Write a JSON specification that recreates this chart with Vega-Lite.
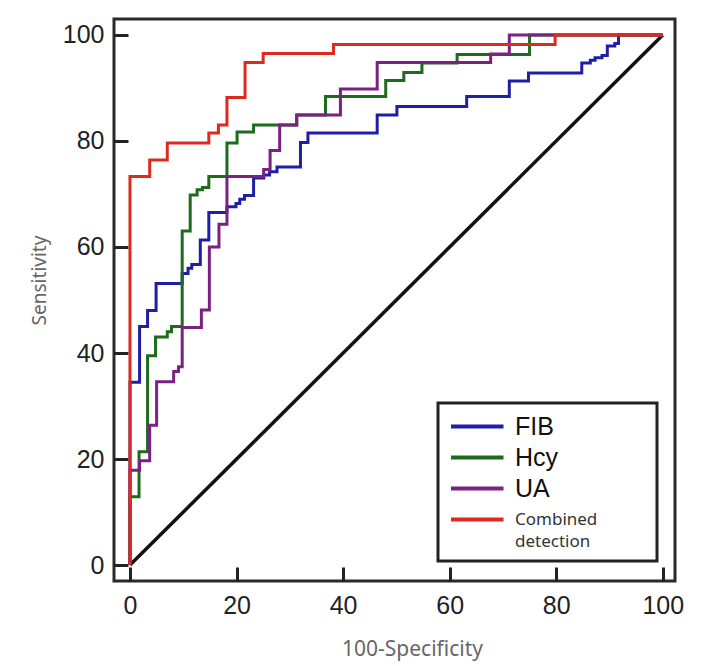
{
  "$schema": "https://vega.github.io/schema/vega-lite/v6.json",
  "autosize": "none",
  "width": 561,
  "height": 562,
  "padding": {"left": 114, "top": 19, "right": 30, "bottom": 85},
  "background": "white",
  "config": {
    "view": {"stroke": "#2a2a2a", "strokeWidth": 3},
    "axis": {
      "grid": false,
      "domain": false,
      "tickSize": -14,
      "tickWidth": 3,
      "tickColor": "#222",
      "labelFont": "Liberation Sans",
      "labelFontSize": 25,
      "labelColor": "#222",
      "titleFont": "Noto Sans",
      "titleFontWeight": "normal",
      "titleColor": "#666"
    }
  },
  "datasets": {
    "roc": [
      {"test": "FIB", "fpr": 0, "sens": 0},
      {"test": "FIB", "fpr": 0, "sens": 34.5},
      {"test": "FIB", "fpr": 1.8, "sens": 45.0},
      {"test": "FIB", "fpr": 3.3, "sens": 48.0},
      {"test": "FIB", "fpr": 4.9, "sens": 53.1},
      {"test": "FIB", "fpr": 9.8, "sens": 55.0},
      {"test": "FIB", "fpr": 10.9, "sens": 56.0},
      {"test": "FIB", "fpr": 11.6, "sens": 56.7},
      {"test": "FIB", "fpr": 13.2, "sens": 61.3},
      {"test": "FIB", "fpr": 14.8, "sens": 66.5},
      {"test": "FIB", "fpr": 18.2, "sens": 67.6},
      {"test": "FIB", "fpr": 19.9, "sens": 68.2},
      {"test": "FIB", "fpr": 20.6, "sens": 69.0},
      {"test": "FIB", "fpr": 21.5, "sens": 69.7},
      {"test": "FIB", "fpr": 23.2, "sens": 73.0},
      {"test": "FIB", "fpr": 25.1, "sens": 73.6},
      {"test": "FIB", "fpr": 26.2, "sens": 74.2},
      {"test": "FIB", "fpr": 27.6, "sens": 75.1},
      {"test": "FIB", "fpr": 32.0, "sens": 79.7},
      {"test": "FIB", "fpr": 33.4, "sens": 81.5},
      {"test": "FIB", "fpr": 46.4, "sens": 84.9},
      {"test": "FIB", "fpr": 50.1, "sens": 86.5},
      {"test": "FIB", "fpr": 63.2, "sens": 88.4},
      {"test": "FIB", "fpr": 71.2, "sens": 91.3},
      {"test": "FIB", "fpr": 74.8, "sens": 92.8},
      {"test": "FIB", "fpr": 84.8, "sens": 94.7},
      {"test": "FIB", "fpr": 86.4, "sens": 95.2},
      {"test": "FIB", "fpr": 87.3, "sens": 95.7},
      {"test": "FIB", "fpr": 88.6, "sens": 96.1},
      {"test": "FIB", "fpr": 89.6, "sens": 97.9},
      {"test": "FIB", "fpr": 91.0, "sens": 98.4},
      {"test": "FIB", "fpr": 91.7, "sens": 100},
      {"test": "FIB", "fpr": 100, "sens": 100},

      {"test": "Hcy", "fpr": 0, "sens": 0},
      {"test": "Hcy", "fpr": 0, "sens": 12.9},
      {"test": "Hcy", "fpr": 1.7, "sens": 21.4},
      {"test": "Hcy", "fpr": 3.3, "sens": 39.5},
      {"test": "Hcy", "fpr": 4.8, "sens": 43.0},
      {"test": "Hcy", "fpr": 7.0, "sens": 44.0},
      {"test": "Hcy", "fpr": 7.8, "sens": 45.0},
      {"test": "Hcy", "fpr": 9.8, "sens": 63.0},
      {"test": "Hcy", "fpr": 11.3, "sens": 69.8},
      {"test": "Hcy", "fpr": 12.6, "sens": 70.8},
      {"test": "Hcy", "fpr": 13.6, "sens": 71.2},
      {"test": "Hcy", "fpr": 14.8, "sens": 73.3},
      {"test": "Hcy", "fpr": 18.2, "sens": 79.6},
      {"test": "Hcy", "fpr": 20.1, "sens": 81.7},
      {"test": "Hcy", "fpr": 23.2, "sens": 83.0},
      {"test": "Hcy", "fpr": 31.3, "sens": 84.9},
      {"test": "Hcy", "fpr": 36.7, "sens": 88.4},
      {"test": "Hcy", "fpr": 48.0, "sens": 91.4},
      {"test": "Hcy", "fpr": 51.4, "sens": 92.9},
      {"test": "Hcy", "fpr": 54.8, "sens": 94.7},
      {"test": "Hcy", "fpr": 61.4, "sens": 96.3},
      {"test": "Hcy", "fpr": 75.0, "sens": 100},
      {"test": "Hcy", "fpr": 100, "sens": 100},

      {"test": "UA", "fpr": 0, "sens": 0},
      {"test": "UA", "fpr": 0, "sens": 17.9},
      {"test": "UA", "fpr": 1.8, "sens": 19.7},
      {"test": "UA", "fpr": 3.7, "sens": 26.4},
      {"test": "UA", "fpr": 5.0, "sens": 34.6},
      {"test": "UA", "fpr": 8.2, "sens": 36.5},
      {"test": "UA", "fpr": 9.1, "sens": 37.4},
      {"test": "UA", "fpr": 9.8, "sens": 44.8},
      {"test": "UA", "fpr": 13.4, "sens": 48.1},
      {"test": "UA", "fpr": 14.9, "sens": 60.0},
      {"test": "UA", "fpr": 16.7, "sens": 64.3},
      {"test": "UA", "fpr": 18.2, "sens": 73.3},
      {"test": "UA", "fpr": 25.1, "sens": 74.6},
      {"test": "UA", "fpr": 26.3, "sens": 78.2},
      {"test": "UA", "fpr": 28.1, "sens": 83.0},
      {"test": "UA", "fpr": 31.3, "sens": 84.9},
      {"test": "UA", "fpr": 39.5, "sens": 89.8},
      {"test": "UA", "fpr": 46.4, "sens": 94.8},
      {"test": "UA", "fpr": 67.7, "sens": 96.4},
      {"test": "UA", "fpr": 71.2, "sens": 100},
      {"test": "UA", "fpr": 100, "sens": 100},

      {"test": "Combined detection", "fpr": 0, "sens": 0},
      {"test": "Combined detection", "fpr": 0, "sens": 73.3},
      {"test": "Combined detection", "fpr": 3.7, "sens": 76.4},
      {"test": "Combined detection", "fpr": 7.0, "sens": 79.6},
      {"test": "Combined detection", "fpr": 14.8, "sens": 81.5},
      {"test": "Combined detection", "fpr": 16.6, "sens": 83.0},
      {"test": "Combined detection", "fpr": 18.2, "sens": 88.2},
      {"test": "Combined detection", "fpr": 21.6, "sens": 94.8},
      {"test": "Combined detection", "fpr": 25.0, "sens": 96.5},
      {"test": "Combined detection", "fpr": 38.2, "sens": 98.2},
      {"test": "Combined detection", "fpr": 79.8, "sens": 100},
      {"test": "Combined detection", "fpr": 100, "sens": 100}
    ],
    "ref": [
      {"fpr": 0, "sens": 0},
      {"fpr": 100, "sens": 100}
    ]
  },
  "layer": [
    {
      "data": {"name": "ref"},
      "mark": {"type": "line", "color": "#111", "strokeWidth": 3.5},
      "encoding": {
        "x": {"field": "fpr", "type": "quantitative"},
        "y": {"field": "sens", "type": "quantitative"}
      }
    },
    {
      "data": {"name": "roc"},
      "mark": {"type": "line", "interpolate": "step-after", "strokeWidth": 3},
      "encoding": {
        "x": {
          "field": "fpr", "type": "quantitative",
          "scale": {"domain": [-3, 102.3], "nice": false, "zero": false},
          "axis": {
            "values": [0, 20, 40, 60, 80, 100],
            "labelPadding": 26,
            "title": "100-Specificity",
            "titleFontSize": 21,
            "titleX": 298,
            "titleY": 74,
            "titleBaseline": "alphabetic",
            "titleAlign": "center"
          }
        },
        "y": {
          "field": "sens", "type": "quantitative",
          "scale": {"domain": [-3, 103], "nice": false, "zero": false},
          "axis": {
            "values": [0, 20, 40, 60, 80, 100],
            "labelPadding": 24,
            "title": "Sensitivity",
            "titleFontSize": 19,
            "titleAngle": -90,
            "titleX": -69,
            "titleY": 261,
            "titleBaseline": "alphabetic",
            "titleAlign": "center"
          }
        },
        "color": {
          "field": "test", "type": "nominal",
          "scale": {
            "domain": ["FIB", "Hcy", "UA", "Combined detection"],
            "range": ["#1f1fa6", "#1d6b1d", "#7b2182", "#dc2a1e"]
          },
          "legend": {
            "orient": "none",
            "legendX": 324,
            "legendY": 384,
            "title": null,
            "padding": 11,
            "strokeColor": "#222",
            "fillColor": "white",
            "symbolType": "M-1,0H4M16.8,0",
            "symbolSize": 441,
            "symbolStrokeWidth": 4,
            "symbolOffset": 0,
            "labelOffset": 41,
            "rowPadding": 5,
            "labelFont": "Liberation Sans",
            "labelFontSize": 25,
            "labelColor": "#111",
            "labelLimit": 400,
            "labelExpr": "datum.label == 'Combined detection' ? ['Combined', 'detection'] : datum.label",
            "encode": {
              "legend": {
                "update": {
                  "strokeWidth": {"value": 3}
                }
              },
              "labels": {
                "update": {
                  "fontSize": {"signal": "datum.value == 'Combined detection' ? 17 : 25"},
                  "font": {"signal": "datum.value == 'Combined detection' ? 'Noto Sans' : 'Liberation Sans'"},
                  "fill": {"signal": "datum.value == 'Combined detection' ? '#333' : '#111'"},
                  "lineHeight": {"value": 22}
                }
              }
            }
          }
        },
        "order": {"field": "fpr", "type": "quantitative"}
      }
    }
  ]
}
